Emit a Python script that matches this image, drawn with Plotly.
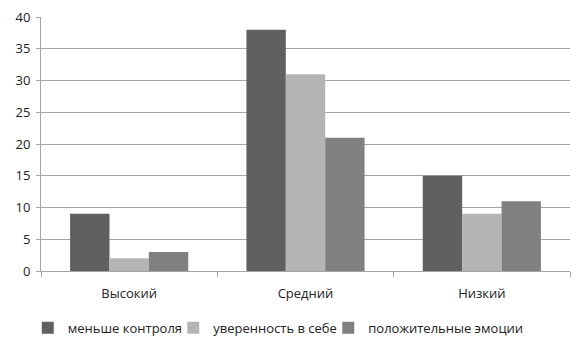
import plotly.graph_objects as go

categories = ["Высокий", "Средний", "Низкий"]
series_names = ["меньше контроля", "уверенность в себе", "положительные эмоции"]
less_control = [9, 38, 15]
self_confidence = [2, 31, 9]
positive_emotions = [3, 21, 11]
y_ticks = [0, 5, 10, 15, 20, 25, 30, 35, 40]

colors = ["#606060", "#b4b4b4", "#808080"]
values = [less_control, self_confidence, positive_emotions]
legend_ids = ["legend", "legend2", "legend3"]
legend_x = [-0.025, 0.250, 0.543]

fig = go.Figure()
for name, vals, c, lg in zip(series_names, values, colors, legend_ids):
    fig.add_trace(go.Bar(x=categories, y=vals, name=name, legend=lg,
                         marker=dict(color=c, line=dict(width=0))))

font = dict(family="Open Sans, Liberation Sans, sans-serif", size=13, color="#222222")
legend_common = dict(orientation="h", xanchor="left", y=-0.165, yanchor="top",
                     font=dict(size=13), itemwidth=30, bgcolor="rgba(0,0,0,0)")
fig.update_layout(
    width=578, height=343,
    margin=dict(l=33, r=16, t=9, b=80, autoexpand=False),
    paper_bgcolor="white", plot_bgcolor="white",
    barmode="group", bargap=0.33, bargroupgap=0,
    font=font,
    legend=dict(x=legend_x[0], **legend_common),
    legend2=dict(x=legend_x[1], **legend_common),
    legend3=dict(x=legend_x[2], **legend_common),
    showlegend=True,
)
fig.update_yaxes(range=[0, 40], tickvals=y_ticks, showgrid=True, gridcolor="#a4a4a4", gridwidth=1,
                 showline=True, linecolor="#a4a4a4", ticks="outside", ticklen=4, tickcolor="#a4a4a4",
                 zeroline=False, ticklabelstandoff=3, automargin=False, ticklabeloverflow="allow")
fig.update_xaxes(showline=True, linecolor="#a4a4a4", ticks="outside", ticklen=5, tickcolor="#a4a4a4",
                 tickson="boundaries", ticklabelstandoff=10, showgrid=False, automargin=False,
                 ticklabeloverflow="allow")
fig.write_html("out.html")
